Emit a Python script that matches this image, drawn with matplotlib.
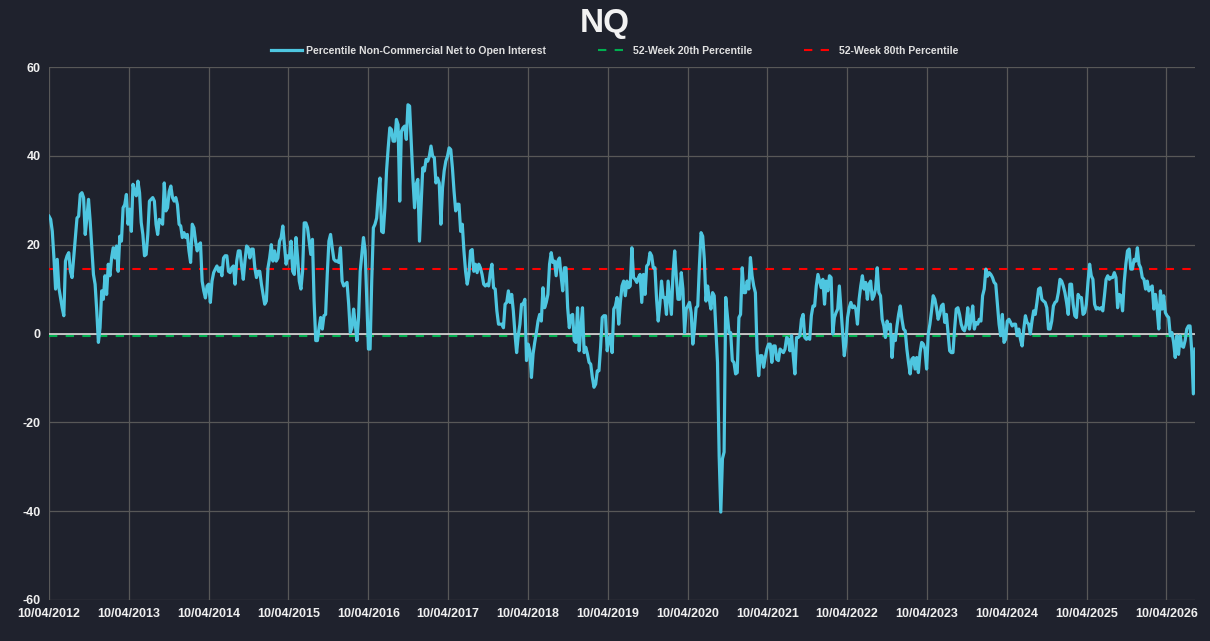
import matplotlib
matplotlib.use("Agg")
import matplotlib.pyplot as plt
import matplotlib.dates as mdates
import numpy as np
import pandas as pd

plt.rcParams['font.family'] = ['Liberation Sans Narrow', 'Liberation Sans', 'DejaVu Sans']
plt.rcParams['axes.unicode_minus'] = False

title = "NQ"
series_name = "Percentile Non-Commercial Net to Open Interest"
p20_name = "52-Week 20th Percentile"
p80_name = "52-Week 80th Percentile"

start_date = "2012-10-04"
end_date = "2027-02-12"

values_a = [26.4, 25.7, 23, 17, 10, 16.7, 10.3, 8, 5.8, 4, 16.3, 17.5, 18.2, 14, 12.6, 17, 21.6, 26, 26.4, 31.3,
            31.7, 30.6, 22.3, 26, 30.2, 25.3, 19.3, 13.3, 11.1, 5.1, -2, 1.3, 9.6, 7.7, 13, 8.8, 15.6, 13, 17, 19.3,
            17, 19.7, 14, 21.9, 20.8, 28.3, 29, 31.3, 24.6, 28, 23, 33.6, 32, 31, 34.3, 31.7, 25, 22.3, 17.5, 17.8,
            22.3, 29.8, 30.2, 30.6, 29.8, 24.6, 22.3, 25.7, 25.3, 24.6, 33.9, 27.6, 28.3, 32, 33.2, 30.6, 29.8, 30.6,
            29, 24.6, 24.2, 21.6, 22.7, 21.6, 22.3, 18.6, 16, 24.6, 23.8, 20.8, 18.6, 20, 20.4, 11.8, 9.6, 8, 10.7,
            11.1, 7, 11.8, 13.7, 14.5, 15.2, 14, 14.8, 13, 17, 17.5, 17.5, 14, 13.7, 14.8]
values_b = [15.2, 11.1, 16.3, 18.6, 18.6, 15.2, 12.2, 16.3, 19.7, 19.3, 17, 19, 19, 14.8, 12.6, 14, 14, 11.1, 8.8,
            6.6, 7.3, 14.8, 17, 20, 16.3, 18.6, 16.3, 17, 20.8, 21.6, 24.2, 20, 15.6, 17.5, 17, 20.8, 14, 13.3, 21.6,
            17, 11.8, 10, 14, 24.9, 24.9, 23.8, 20.8, 17.8, 21.2, 7.3, -1.6, -1.6, 1.3, 3.6, 1, 4, 4.3, 13.3, 20.8,
            22.3, 19.3, 16.7, 16.3, 16.3, 16, 19.3, 11.8, 10.7, 11.1, 11.5, 6.6, 0.2, 1.3, 5.5, 2.1, -1.6, 3.6, 14,
            17.8, 21.6, 18.6, 7.3, -3.5, -3.5, 11.8, 23.8, 24.6, 26, 31.3, 35, 23, 22.7, 28.3, 36.6, 41.8, 46.3, 45.9,
            43.3, 43.3, 48.2, 47, 29.8, 45.5, 46.3, 46.7, 43.7, 51.5, 51.2, 43.3, 35, 28.3, 33.6, 34.7, 20.8, 29,
            37.3, 36.6, 39.2, 38.8]
values_c = [39.9, 42.2, 39.9, 39.6, 33.9, 35, 33.9, 24.6, 32.8, 36.6, 38.8, 39.9, 41.8, 41.4, 37.3, 32, 27.6, 29.1,
            29.1, 23, 24.6, 18.6, 14, 11.1, 13.3, 18.6, 18.9, 14, 15.6, 13.7, 15.6, 14.8, 13.3, 11.1, 10.7, 11.1, 10.7,
            13.7, 15.6, 10.3, 10, 5.1, 2.1, 2.1, 2.1, 1.3, 6.6, 7, 9.6, 7, 8.8, 5.1, -0.1, -4.3, -0.5, 2.1, 6.6, 6.6,
            7.7, -6.1, -2.4, -3.9, -9.9, -4.6, -2, 0.2, 2.8, 4.3, 2.8, 10.3, 5.8, 7, 8.8, 15.6, 18.2, 16, 16.3, 13,
            16.3, 17, 13, 9.6, 14.8, 14.8, 5.8, 1.3, 4, 4.3, -1.6, -2, 5.8, -3.9, 1.3, 5.8, -4.3, -3.1, -4.6, -6.5,
            -6.9, -9.9, -12.1, -11.4, -8.4, -8.4, -3.1, 3.6, 4, 4, -3.9]
values_d = [-1.3, -0.5, -4.3, 5.5, 6.2, 8.1, 2.1, 7, 10.7, 11.8, 8.5, 11.8, 10.3, 10.7, 19.3, 12.6, 12.2, 11.5,
            12.6, 13.3, 7, 13.3, 8.8, 15.2, 15.6, 18.2, 17.5, 14.8, 14.8, 7.7, 2.8, 6.6, 11.8, 8.1, 8.1, 4.3, 11.8,
            8.1, 4.3, 13.7, 18.6, 12.6, 7.7, 7.7, 13.7, 10, 0.2, 5.5, 6.2, 7, 4.7, -2.4, 1, 5.8, 6.2, 15.2, 22.7,
            21.9, 16.7, 7.3, 10.7, 7.7, 5.5, 9.2, 8.5, 1, -6.5, -27.5, -40.2, -28.2, -26.7, 8.1, 4, 0.2, 0.2, -6.1,
            -6.5, -9.1, -8.8, 3.6, 4.3, 14.8, 9.2, 9.2, 11.8, 10, 17.1, 13, 10.7, 9.2, -3.5, -9.5, -5, -5, -7.6,
            -5.4, -3.5, -2.4, -2.4, -6.5, -2.8, -2.8, -5.8, -6.1, -3.5, -3.9, -4.3, -3.5, -0.9, -1.3, -3.9, -0.5,
            -5, -9.1, -0.9, -0.9]
values_e = [-0.5, 3.2, 4.3, -0.9, -1.3, -0.9, -1.3, 4, 6.2, 6.2, 10.7, 13.3, 11.8, 10.3, 12.2, 6.6, 11.8, 9.6, 13,
            12.6, -0.1, 3.6, 4.7, 5.5, 10.7, 5.5, 0.2, -5, -2, 3.6, 5.8, 7, 5.8, 6.2, 5.5, 2.1, 7.7, 10.7, 13, 10,
            11.5, 7.7, 11.1, 11.8, 7.7, 8.5, 10, 14.8, 9.2, 8.5, 3.2, 1.7, -0.9, 2.8, 1, 2.1, -5.4, -0.5, -1.6, 1.7,
            4.3, 6.2, 3.2, 1, 0.6, -3.5, -6.5, -9.1, -5.8, -5.4, -8, -5.4, -8.8, -4.3, -2, -2.4, -3.5, -8, -0.1,
            2.1, 5.1, 8.5, 7.7, 5.8, 3.2, 4.3, 6.2, 6.6, 2.5, 4.3, 0.2, -3.9, -4.3, -4.3, 1, 5.5, 5.8, 4.3, 2.1, 1,
            0.6, 2.1, 5.8, 1, 3.2, 6.2, 1, 2.5, 2.1, 3.2, 2.8, 8.5, 10, 14.5, 12.9, 13.7]
values_f = [13.3, 12.6, 11.5, 11.1, 6.6, 2.1, -0.5, 4.3, -2, -1.3, 2.8, 3.2, 2.5, 1.7, 2.1, 2.1, -0.5, 1, -1.3,
            -2.8, 1, 4, 2.5, 2.1, -0.1, 2.8, 5.1, 4.3, 7, 10, 10.3, 7.7, 7.3, 7, 5.8, 1, 1, 2.8, 6.2, 7, 7.3, 9.2,
            12.2, 11.8, 10.7, 9.2, 7, 4.3, 11.1, 11.1, 6.6, 4, 3.6, 8.8, 8.1, 8.1, 4.3, 4.7, 6.6, 11.5, 15.6, 13,
            12.2, 6.6, 5.5, 5.8, 5.5, 5.8, 5.1, 8.5, 12.2, 13, 12.2, 12.6, 12.6, 13.7, 12.6, 5.8, 8.8, 8.5, 5.1,
            11.5, 15.6, 18.6, 19, 14.5, 14.5, 16.7, 16.3, 19.3, 15.6, 14.8, 12.6, 12.2, 10, 11.8, 9.6, 10.3, 10.7,
            5.5, 8.8, 5.5, 1, 9.6, 5.5, 8.5, 4.7, 4, 3.6, -0.5, 0.2, -2, -5.4, -0.5, -4.7, -0.5, -2.8, -3.1, -1.6,
            1, 1.7, 1.7, -3.9, -13.6, -3.5]

p20_value = -0.6
p80_value = 14.5

y_ticks = [-60, -40, -20, 0, 20, 40, 60]

values = np.array(values_a + values_b + values_c + values_d + values_e + values_f)
dates = pd.date_range(start_date, end_date, periods=len(values))
p20 = np.full(len(values), p20_value)
p80 = np.full(len(values), p80_value)

bg = '#1F222D'
fig = plt.figure(figsize=(12.1, 6.41), dpi=100, facecolor=bg)
ax = fig.add_axes([49 / 1210, 1 - 600 / 641, (1195 - 49) / 1210, (600 - 67) / 641])
ax.set_facecolor(bg)

ax.plot(dates, values, color='#4EC6E0', lw=2.3, label=series_name, zorder=4, solid_joinstyle='round')
ax.plot(dates, p20, color='#00B050', lw=1.5, ls=(0, (4, 4)), label=p20_name, zorder=3)
ax.plot(dates, p80, color='#FF0000', lw=1.5, ls=(0, (4, 4)), label=p80_name, zorder=3)
ax.axhline(0, color='#E8E8E8', lw=1.1, zorder=2)

ax.set_ylim(-60, 60)
ax.set_yticks(y_ticks)
ax.set_xlim(pd.Timestamp(start_date), pd.Timestamp(end_date))
ax.xaxis.set_major_locator(mdates.YearLocator(1, month=10, day=4))
ax.xaxis.set_major_formatter(mdates.DateFormatter('%m/%d/%Y'))

ax.grid(True, color='#585858', lw=0.9, zorder=1)
for s in ax.spines.values():
    s.set_visible(False)
ax.tick_params(length=0, colors='#F0F0F0', labelsize=9, pad=6)
for lab in ax.get_xticklabels() + ax.get_yticklabels():
    lab.set_fontweight('bold')

fig.text(0.5, 0.963, title, ha='center', va='center', color='#F2F2F2', fontsize=24, fontweight='bold')
leg = fig.legend(loc='center', bbox_to_anchor=(0.508, 1 - 51 / 641), ncol=3, frameon=False,
                 prop={'size': 7.6, 'weight': 'bold'}, labelcolor='#E0E0E0', handlelength=3.0,
                 columnspacing=4.9, handletextpad=0.35)

fig.savefig('out.png', dpi=100, facecolor=bg)
